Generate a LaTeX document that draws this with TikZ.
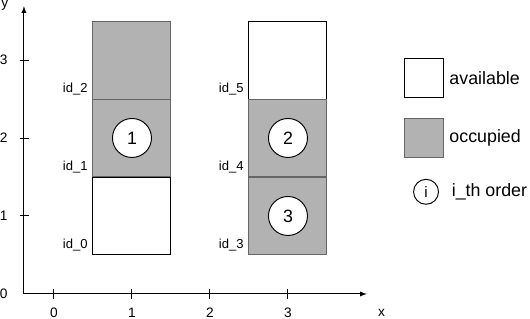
\documentclass[tikz,border=0pt]{standalone}
\usepackage{fontspec}
\setmainfont{Liberation Sans}
\usetikzlibrary{positioning,calc}

\tikzset{
  free/.style={draw=black, fill=white, minimum size=2cm, inner sep=0pt},
  busy/.style={draw=black!60, fill=black!30, minimum size=2cm, inner sep=0pt},
  order/.style={circle, draw=black, fill=white, minimum size=1cm, inner sep=0pt,
    font=\fontsize{13}{15}\selectfont},
  idlab/.style={anchor=base east, inner sep=1pt, font=\fontsize{9.5}{11}\selectfont},
  legtext/.style={font=\fontsize{13}{15}\selectfont},
}

\begin{document}
\begin{tikzpicture}[x=2cm, y=2cm, line width=0.7pt]
  \useasboundingbox (-0.692,-0.308) rectangle (6.103,3.769);

  % Axes
  \coordinate (o) at (-0.385,0);
  \coordinate (xend) at (4.01,0);
  \coordinate (yend) at (-0.385,3.69);
  \draw[-latex] (o) -- (xend);
  \draw[-latex] (o) -- (yend);
  \node (xlab) at (4.2,-0.245) {x};
  \node (ylab) at (-0.63,3.70) {y};

  % Graduations en x
  \foreach \x in {0,...,3} {
    \draw (\x,-0.06) -- (\x,0.06);
    \node[below] (tx\x) at (\x,-0.12) {\x};
  }

  % Graduations en y
  \foreach \y in {1,...,3}
    \draw (-0.44,\y) -- (-0.32,\y);
  \foreach \y in {0,...,3}
    \node[left] (ty\y) at (-0.53,\y) {\y};

  % Cases libres puis occupees
  \foreach \n/\x/\y in {c0/1/1, c5/3/3}
    \node[free] (\n) at (\x,\y) {};
  \foreach \n/\x/\y in {c1/1/2, c2/1/3, c3/3/1, c4/3/2}
    \node[busy] (\n) at (\x,\y) {};

  % Identifiants
  \foreach \i in {0,...,5}
    \node[idlab] (id\i) at ($(c\i.south west)+(-0.04,0.09)$) {id\_\i};

  % Ordre
  \foreach \i/\c in {1/c1, 2/c4, 3/c3}
    \node[order] (o\i) at (\c) {\i};

  % Legende
  \node[free, minimum size=1cm] (lfree) at (4.75,2.77) {};
  \node[legtext, right=0pt of lfree] (tfree) {available};
  \node[busy, minimum size=1cm] (lbusy) at (4.75,2.0) {};
  \node[legtext, right=0pt of lbusy] (tbusy) {occupied};
  \node[order, minimum size=0.64cm, font=\fontsize{11}{13}\selectfont] (lorder) at (4.77,1.31) {i};
  \node[legtext, right=0.2cm of lorder] (torder) {i\_th order};
\end{tikzpicture}
\end{document}
